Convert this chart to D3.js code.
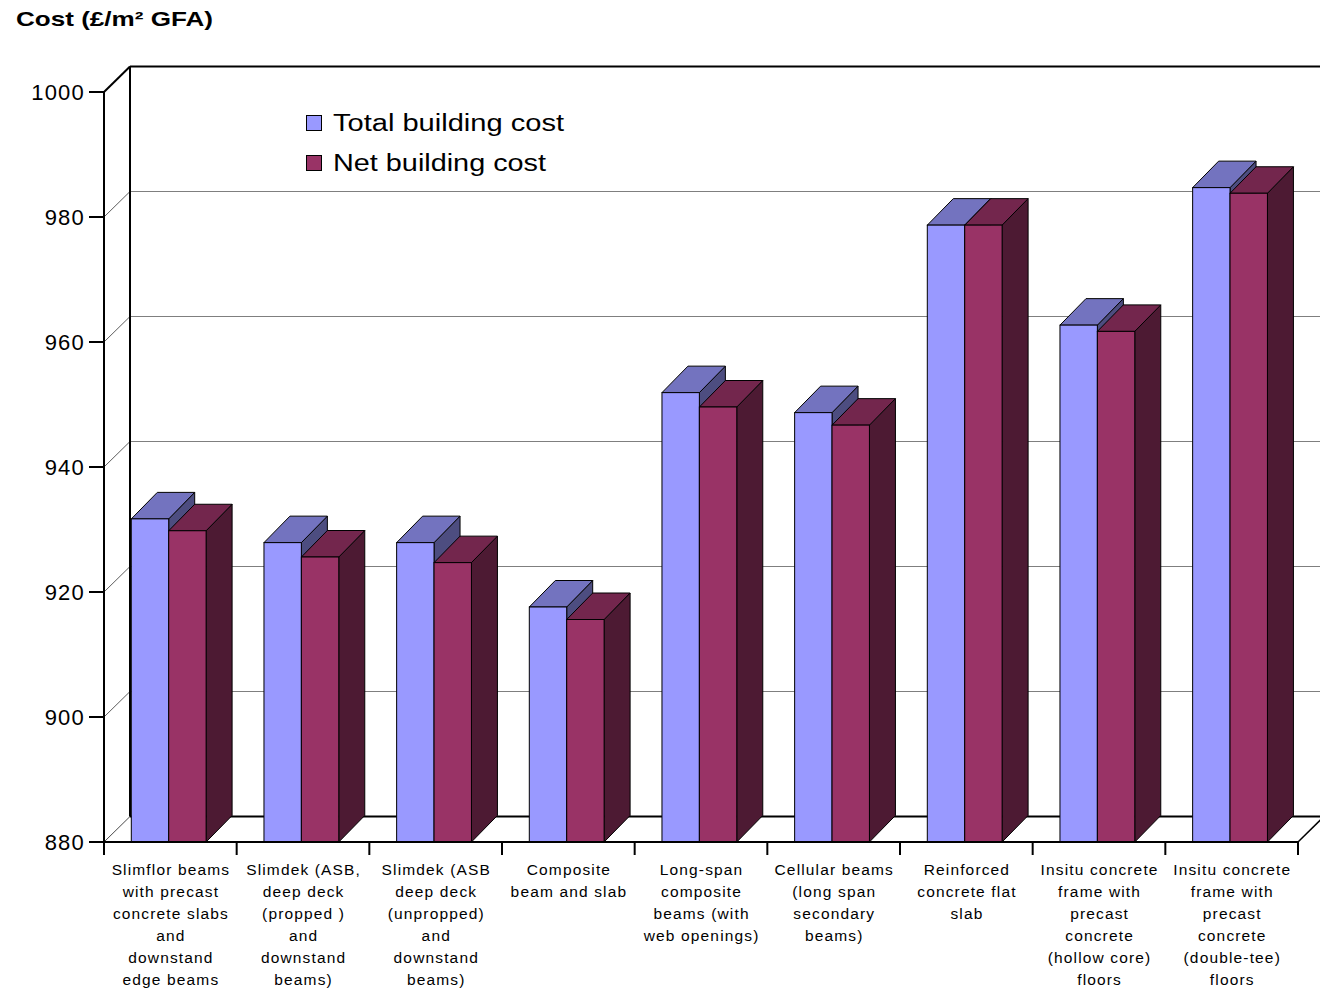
<!DOCTYPE html>
<html>
<head>
<meta charset="utf-8">
<script src="https://cdn.jsdelivr.net/npm/d3@7"></script>
<style>
  html, body { margin: 0; padding: 0; background: #fff; }
  svg { display: block; font-family: "Liberation Sans", Arial, sans-serif; }
</style>
</head>
<body>
<svg id="chart" width="1320" height="990"></svg>
<script>
// ---- data ----
const categories = [
  ["Slimflor beams", "with precast", "concrete slabs", "and", "downstand", "edge beams"],
  ["Slimdek (ASB,", "deep deck", "(propped )", "and", "downstand", "beams)"],
  ["Slimdek (ASB", "deep deck", "(unpropped)", "and", "downstand", "beams)"],
  ["Composite", "beam and slab"],
  ["Long-span", "composite", "beams (with", "web openings)"],
  ["Cellular beams", "(long span", "secondary", "beams)"],
  ["Reinforced", "concrete flat", "slab"],
  ["Insitu concrete", "frame with", "precast", "concrete", "(hollow core)", "floors"],
  ["Insitu concrete", "frame with", "precast", "concrete", "(double-tee)", "floors"]
];
const seriesNames = ["Total building cost", "Net building cost"];
const totalCost = [931.7, 927.9, 927.9, 917.6, 951.9, 948.7, 978.7, 962.7, 984.7];
const netCost   = [929.8, 925.6, 924.7, 915.6, 949.6, 946.7, 978.7, 961.7, 983.8];
const yTicks = [880, 900, 920, 940, 960, 980, 1000];
const yTitle = "Cost (£/m² GFA)";

// ---- layout ----
const svg = d3.select("#chart");
const x0 = 104, x1 = 1298;       // front floor extent
const yBottom = 842, yTop = 92;  // front axis extent
const DX = 26, DY = 25.5;        // depth offset of the box
const BDX = 26, BDY = 26.5;      // depth offset of bars

const y = d3.scaleLinear().domain([880, 1000]).range([yBottom, yTop]);
const xBand = d3.scaleBand().domain(d3.range(categories.length)).range([x0, x1]).padding(0);
const xSeries = d3.scaleBand().domain([0, 1]).range([27.3, 27.3 + 74.8]).padding(0);

const colors = [
  { front: "#9999FF", top: "#7373BF", side: "#4D4D80" },
  { front: "#993366", top: "#73264D", side: "#4D1A33" }
];

// back-wall gridlines
const g = svg.append("g");
yTicks.filter(t => t > 880 && t < 1000).forEach(t => {
  g.append("line").attr("x1", x0 + DX).attr("x2", 1330)
    .attr("y1", y(t) - DY).attr("y2", y(t) - DY)
    .attr("stroke", "#7f7f7f").attr("stroke-width", 1.2);
  g.append("line").attr("x1", x0).attr("x2", x0 + DX)
    .attr("y1", y(t)).attr("y2", y(t) - DY)
    .attr("stroke", "#333").attr("stroke-width", 0.8);
});
// floor left diagonal
g.append("line").attr("x1", x0).attr("y1", y(880)).attr("x2", x0 + DX).attr("y2", y(880) - DY)
  .attr("stroke", "#333").attr("stroke-width", 0.9);
// floor back edge
g.append("line").attr("x1", x0 + DX).attr("x2", 1330).attr("y1", y(880) - DY).attr("y2", y(880) - DY)
  .attr("stroke", "#000").attr("stroke-width", 2);
// floor right diagonal
g.append("line").attr("x1", x1).attr("y1", y(880)).attr("x2", x1 + DX).attr("y2", y(880) - DY)
  .attr("stroke", "#000").attr("stroke-width", 1.5);
// back wall top & left back edge
g.append("line").attr("x1", x0 + DX).attr("x2", 1330).attr("y1", y(1000) - DY).attr("y2", y(1000) - DY)
  .attr("stroke", "#000").attr("stroke-width", 2);
g.append("line").attr("x1", x0 + DX).attr("x2", x0 + DX).attr("y1", y(1000) - DY).attr("y2", y(880) - DY)
  .attr("stroke", "#000").attr("stroke-width", 2);
g.append("line").attr("x1", x0).attr("y1", y(1000)).attr("x2", x0 + DX).attr("y2", y(1000) - DY)
  .attr("stroke", "#000").attr("stroke-width", 2);

// ---- bars ----
const bars = svg.append("g");
function drawBar(xl, w, v, c) {
  const yf = y(v), yb = y(880);
  const sideP = [[xl + w, yf], [xl + w + BDX, yf - BDY], [xl + w + BDX, yb - BDY], [xl + w, yb]];
  const topP = [[xl, yf], [xl + BDX, yf - BDY], [xl + w + BDX, yf - BDY], [xl + w, yf]];
  const line = d3.line();
  bars.append("path").attr("d", line(sideP) + "Z").attr("fill", c.side)
    .attr("stroke", "#000").attr("stroke-width", 1).attr("stroke-linejoin", "round");
  bars.append("path").attr("d", line(topP) + "Z").attr("fill", c.top)
    .attr("stroke", "#000").attr("stroke-width", 1).attr("stroke-linejoin", "round");
  bars.append("rect").attr("x", xl).attr("y", yf).attr("width", w).attr("height", yb - yf)
    .attr("fill", c.front).attr("stroke", "#000").attr("stroke-width", 1);
}
categories.forEach((cat, i) => {
  [totalCost[i], netCost[i]].forEach((v, s) => {
    drawBar(xBand(i) + xSeries(s), xSeries.bandwidth(), v, colors[s]);
  });
});

// ---- front axes ----
const ax = svg.append("g");
ax.append("line").attr("x1", x0).attr("x2", x0).attr("y1", y(1000)).attr("y2", y(880) + 13)
  .attr("stroke", "#000").attr("stroke-width", 2);
ax.append("line").attr("x1", x0).attr("x2", x1).attr("y1", y(880)).attr("y2", y(880))
  .attr("stroke", "#000").attr("stroke-width", 2);
// y ticks + labels
yTicks.forEach(t => {
  ax.append("line").attr("x1", x0 - 15).attr("x2", x0).attr("y1", y(t)).attr("y2", y(t))
    .attr("stroke", "#000").attr("stroke-width", 2);
  ax.append("text").attr("x", x0 - 19).attr("y", y(t) + 8)
    .attr("text-anchor", "end").attr("font-size", 22).attr("letter-spacing", 1.2)
    .attr("fill", "#000").text(t);
});
// x ticks
d3.range(categories.length + 1).forEach(i => {
  const xx = x0 + i * xBand.bandwidth();
  ax.append("line").attr("x1", xx).attr("x2", xx).attr("y1", y(880)).attr("y2", y(880) + 13)
    .attr("stroke", "#000").attr("stroke-width", 2);
});
// x labels
categories.forEach((lines, i) => {
  const cx = xBand(i) + xBand.bandwidth() / 2;
  const t = ax.append("text").attr("text-anchor", "middle").attr("font-size", 15.5)
    .attr("letter-spacing", 1.15).attr("fill", "#000");
  lines.forEach((ln, k) => {
    t.append("tspan").attr("x", cx + 0.6).attr("y", 875 + k * 22).text(ln);
  });
});

// ---- title ----
svg.append("text").attr("x", 16).attr("y", 26).attr("font-size", 21).attr("font-weight", "bold")
  .attr("textLength", 197).attr("lengthAdjust", "spacingAndGlyphs").attr("fill", "#000").text(yTitle);

// ---- legend ----
const lg = svg.append("g");
seriesNames.forEach((name, s) => {
  const yy = 115 + s * 40;
  lg.append("rect").attr("x", 306.5).attr("y", yy + 0.5).attr("width", 15).attr("height", 15)
    .attr("fill", colors[s].front).attr("stroke", "#000").attr("stroke-width", 1);
  lg.append("text").attr("x", 333).attr("y", yy + 16).attr("font-size", 23)
    .attr("textLength", s === 0 ? 231 : 213).attr("lengthAdjust", "spacingAndGlyphs")
    .attr("fill", "#000").text(name);
});
</script>
</body>
</html>
